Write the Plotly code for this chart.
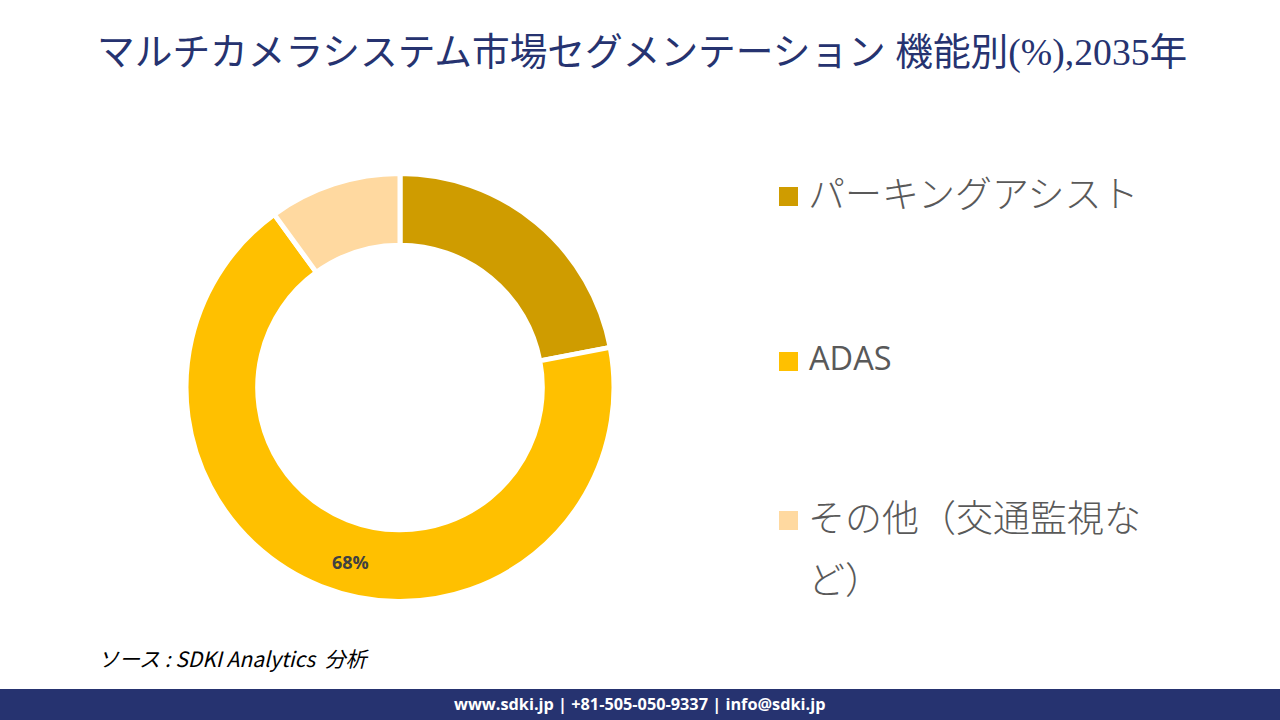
import plotly.graph_objects as go

# chart values
segments = ['パーキングアシスト', 'ADAS', 'その他（交通監視など）']
shares = [22, 68, 10]
colors = ['#CF9C00', '#FFC000', '#FFD9A0']

title = 'マルチカメラシステム市場セグメンテーション 機能別(%),2035年'
source = 'ソース : SDKI Analytics  分析'
footer = 'www.sdki.jp | +81-505-050-9337 | info@sdki.jp'

legend_lines = ['パーキングアシスト', 'ADAS', 'その他（交通監視な']
legend_wrap = 'ど）'
legend_y = [192, 357, 516]
legend_x = [806, 807, 806]
legend_size = [37, 32.5, 37]

W, H = 1280, 720
NAVY = '#263370'
CJK = 'Noto Sans CJK JP'


def px(x):
    return x / W


def py(y):
    return 1 - y / H


def legend_font(size):
    if size > 35:
        return dict(family=CJK, size=size, color='#595959', weight=300)
    return dict(family='Open Sans', size=size, color='#595959')


fig = go.Figure(go.Pie(
    labels=segments,
    values=shares,
    sort=False,
    direction='clockwise',
    rotation=0,
    hole=0.665,
    textinfo='none',
    showlegend=False,
    marker=dict(colors=colors, line=dict(color='white', width=5)),
    domain=dict(x=[px(186), px(614)], y=[py(603), py(172)]),
))

shapes = [dict(type='rect', xref='paper', yref='paper', x0=0, x1=1, y0=0, y1=py(689),
               fillcolor=NAVY, line_width=0)]
annotations = [
    dict(text=title, x=px(642), y=py(53), xanchor='center',
         font=dict(family='Liberation Serif, ' + CJK, size=37.7, color=NAVY)),
    dict(text=f'{shares[1]}%', x=px(350), y=py(562), xanchor='center',
         font=dict(family='Open Sans', size=18, color='#404040', weight='bold')),
    dict(text=f'<i>{source}</i>', x=px(96), y=py(658), xanchor='left',
         font=dict(family=CJK, size=21, color='black')),
    dict(text=footer, x=px(639), y=py(704), xanchor='center',
         font=dict(family='Open Sans', size=16.3, color='white', weight='bold')),
    dict(text=legend_wrap, x=px(806), y=py(578), xanchor='left', font=legend_font(37)),
]

# legend drawn by hand, entries are spaced far apart in the original
for line, x, y, size, color in zip(legend_lines, legend_x, legend_y, legend_size, colors):
    shapes.append(dict(type='rect', xref='paper', yref='paper',
                       x0=px(779), x1=px(798), y0=py(y + 14), y1=py(y - 5),
                       fillcolor=color, line_width=0))
    annotations.append(dict(text=line, x=px(x), y=py(y), xanchor='left', font=legend_font(size)))

for a in annotations:
    a.update(xref='paper', yref='paper', showarrow=False, yanchor='middle')

fig.update_layout(
    width=W, height=H,
    margin=dict(l=0, r=0, t=0, b=0),
    paper_bgcolor='white',
    shapes=shapes,
    annotations=annotations,
)

# page default margin would push the figure off the window edges
fig.write_html('out.html', config={'displayModeBar': False},
               post_script="document.body.style.margin='0';")
